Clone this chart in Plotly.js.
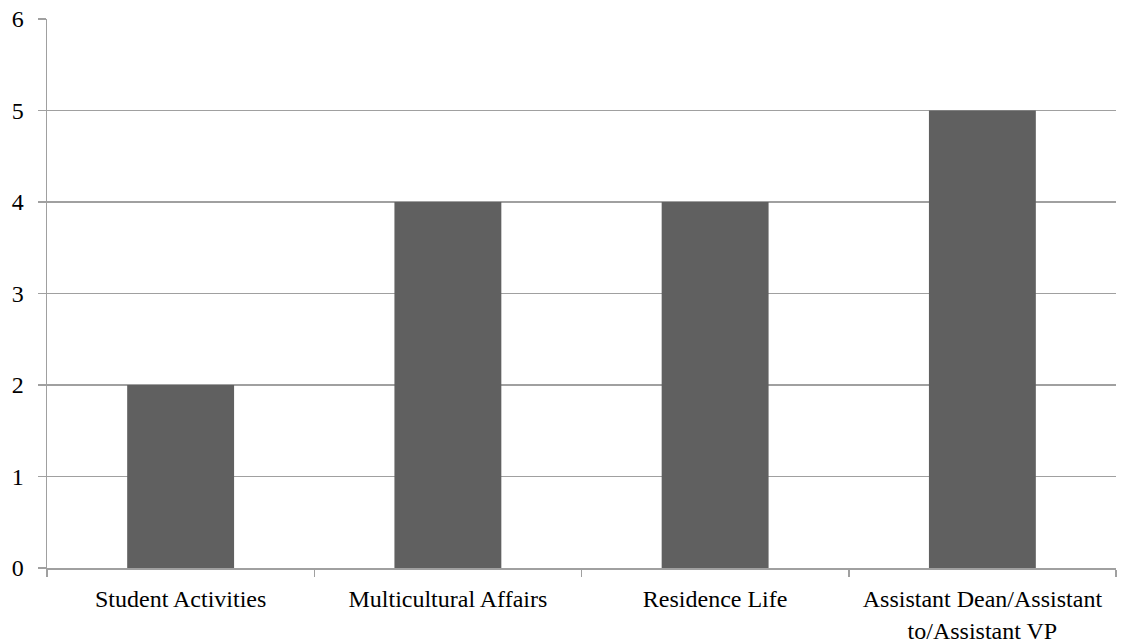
<!DOCTYPE html>
<html>
<head>
<meta charset="utf-8">
<script src="https://cdn.plot.ly/plotly-3.0.1.min.js"></script>
<style>html,body{margin:0;padding:0;background:#fff;}#chart{width:1121px;height:642px;}</style>
</head>
<body>
<div id="chart"></div>
<script>
var categories = ["Student Activities", "Multicultural Affairs", "Residence Life", "Assistant Dean/Assistant<br>to/Assistant VP"];
var values = [2, 4, 4, 5];
var yTicks = [0, 1, 2, 3, 4, 5, 6];

var trace = {
  type: "bar",
  x: categories,
  y: values,
  marker: {color: "#606060"},
  hoverinfo: "none"
};

var layout = {
  width: 1121,
  height: 642,
  margin: {l: 47, r: 5, t: 19, b: 74},
  paper_bgcolor: "#ffffff",
  plot_bgcolor: "#ffffff",
  bargap: 0.6,
  showlegend: false,
  font: {family: "'Liberation Serif', 'Times New Roman', serif", size: 24, color: "#000000"},
  xaxis: {
    type: "category",
    automargin: false,
    showline: true,
    linecolor: "#a0a0a0",
    linewidth: 1.5,
    ticks: "outside",
    tickson: "boundaries",
    ticklen: 7,
    tickcolor: "#a0a0a0",
    tickwidth: 1.5,
    showgrid: false,
    ticklabelstandoff: 9,
    tickfont: {size: 24}
  },
  yaxis: {
    range: [0, 6],
    automargin: false,
    tickvals: yTicks,
    ticktext: yTicks.map(String),
    showgrid: true,
    gridcolor: "#a0a0a0",
    gridwidth: 1.5,
    showline: true,
    linecolor: "#a0a0a0",
    linewidth: 1.5,
    ticks: "outside",
    ticklen: 8,
    tickcolor: "#a0a0a0",
    tickwidth: 1.5,
    zeroline: false,
    ticklabelstandoff: 9,
    tickfont: {size: 24}
  }
};

Plotly.newPlot("chart", [trace], layout, {displayModeBar: false, staticPlot: true});
</script>
</body>
</html>
